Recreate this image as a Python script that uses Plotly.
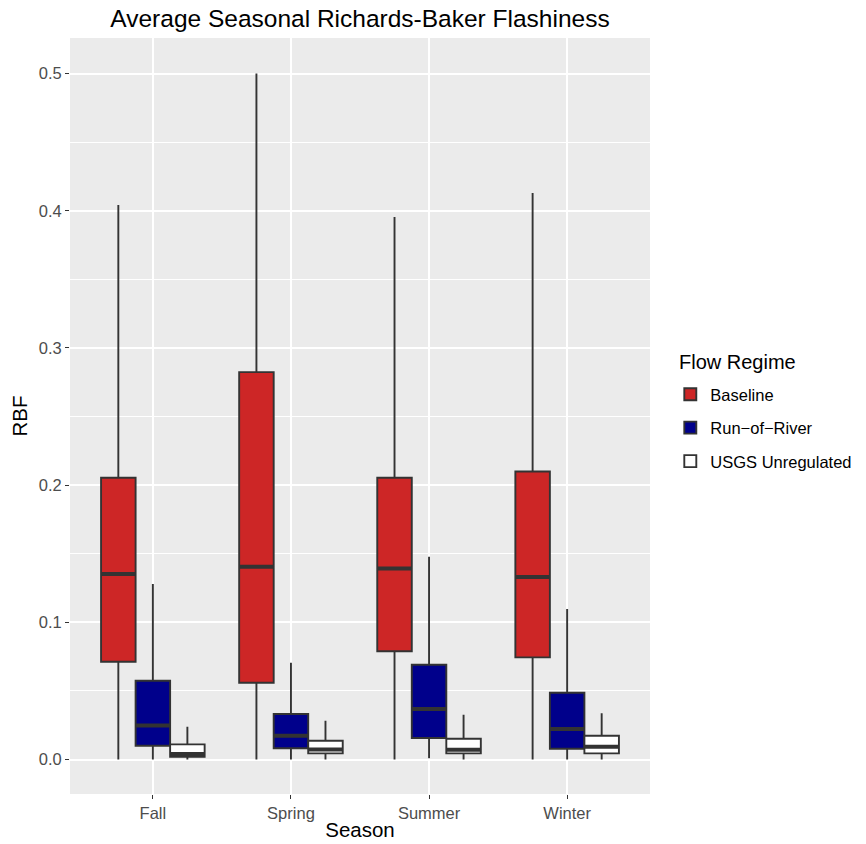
import plotly.graph_objects as go

seasons = ["Fall", "Spring", "Summer", "Winter"]
regimes = ["Baseline", "Run-of-River", "USGS Unregulated"]
legend_labels = ["Baseline", "Run\u2212of\u2212River", "USGS Unregulated"]
colors = ["#CD2626", "#00008B", "#FFFFFF"]

# per regime, per season (Fall, Spring, Summer, Winter)
baseline_low = [0.0, 0.0, 0.0, 0.0]
baseline_q1 = [0.0713, 0.0560, 0.0789, 0.0745]
baseline_med = [0.1352, 0.1405, 0.1393, 0.1330]
baseline_q3 = [0.2054, 0.2824, 0.2054, 0.2100]
baseline_up = [0.4042, 0.5000, 0.3954, 0.4129]

ror_low = [0.0, 0.0, 0.001, 0.0]
ror_q1 = [0.0101, 0.0082, 0.0157, 0.0079]
ror_med = [0.0249, 0.0173, 0.0368, 0.0222]
ror_q3 = [0.0574, 0.0332, 0.0691, 0.0487]
ror_up = [0.1280, 0.0706, 0.1478, 0.1097]

usgs_low = [0.0, 0.0, 0.0, 0.0]
usgs_q1 = [0.0020, 0.0045, 0.0045, 0.0045]
usgs_med = [0.0040, 0.0074, 0.0071, 0.0093]
usgs_q3 = [0.0111, 0.0137, 0.0152, 0.0174]
usgs_up = [0.0239, 0.0283, 0.0327, 0.0337]

stats = [
    (baseline_low, baseline_q1, baseline_med, baseline_q3, baseline_up),
    (ror_low, ror_q1, ror_med, ror_q3, ror_up),
    (usgs_low, usgs_q1, usgs_med, usgs_q3, usgs_up),
]

y_ticks = [0.0, 0.1, 0.2, 0.3, 0.4, 0.5]
y_ticklabels = ["0.0", "0.1", "0.2", "0.3", "0.4", "0.5"]

fig = go.Figure()
outline = "#333333"
for i, (reg, lab, col) in enumerate(zip(regimes, legend_labels, colors)):
    lo, q1, med, q3, up = stats[i]
    fig.add_trace(go.Box(
        x=seasons, q1=q1, median=med, q3=q3, lowerfence=lo, upperfence=up,
        name=lab, fillcolor=col, line=dict(color=outline, width=1.9),
        whiskerwidth=0, offsetgroup=reg, alignmentgroup="all",
        legendgroup=reg, boxpoints=False,
    ))
for i, reg in enumerate(regimes):
    lo, q1, med, q3, up = stats[i]
    fig.add_trace(go.Box(
        x=seasons, q1=med, median=med, q3=med, lowerfence=med, upperfence=med,
        name=reg + " median", fillcolor="rgba(0,0,0,0)",
        line=dict(color=outline, width=4), whiskerwidth=0,
        offsetgroup=reg, alignmentgroup="all", showlegend=False,
        hoverinfo="skip", boxpoints=False,
    ))

# page body has an 8px margin, so the figure is drawn at (8, 8)
fig.update_layout(
    width=858, height=836,
    paper_bgcolor="white", plot_bgcolor="#EBEBEB",
    margin=dict(l=62, r=216, t=30, b=50, autoexpand=False),
    boxmode="group", boxgap=0.25, boxgroupgap=0,
    font=dict(family="Liberation Sans, Arial, sans-serif", color="black"),
    title=dict(text="Average Seasonal Richards-Baker Flashiness",
               x=0.5, xref="paper", xanchor="center",
               y=1.0, yref="container", yanchor="top",
               pad=dict(t=2),
               font=dict(size=24.5, color="black")),
    legend=dict(x=1.035, xanchor="left", y=0.5516, yanchor="top",
                font=dict(size=16.5), bgcolor="rgba(0,0,0,0)",
                tracegroupgap=9),
    showlegend=True,
    annotations=[dict(text="Flow Regime", x=1.0466, y=0.5714,
                      xref="paper", yref="paper", xanchor="left",
                      yanchor="middle", showarrow=False,
                      font=dict(size=20, color="black"))],
)
fig.update_xaxes(
    categoryorder="array", categoryarray=seasons, automargin=False,
    range=[-0.6, 3.6], showgrid=True, gridcolor="white", gridwidth=1.8,
    ticks="outside", ticklen=4, tickcolor=outline, tickwidth=1.3,
    tickfont=dict(size=16.5, color="#4D4D4D"), zeroline=False,
    title=dict(text="Season", font=dict(size=20.5), standoff=1),
)
fig.update_yaxes(
    range=[-0.0251, 0.5259], tickvals=y_ticks, ticktext=y_ticklabels,
    automargin=False,
    showgrid=True, gridcolor="white", gridwidth=1.8,
    minor=dict(dtick=0.05, tick0=0, showgrid=True, gridcolor="white",
               gridwidth=0.8, ticks=""),
    ticks="outside", ticklen=4, tickcolor=outline, tickwidth=1.3,
    tickfont=dict(size=16.5, color="#4D4D4D"), zeroline=False,
    title=dict(text="RBF", font=dict(size=20.5), standoff=10),
)
fig.write_html("out.html")
